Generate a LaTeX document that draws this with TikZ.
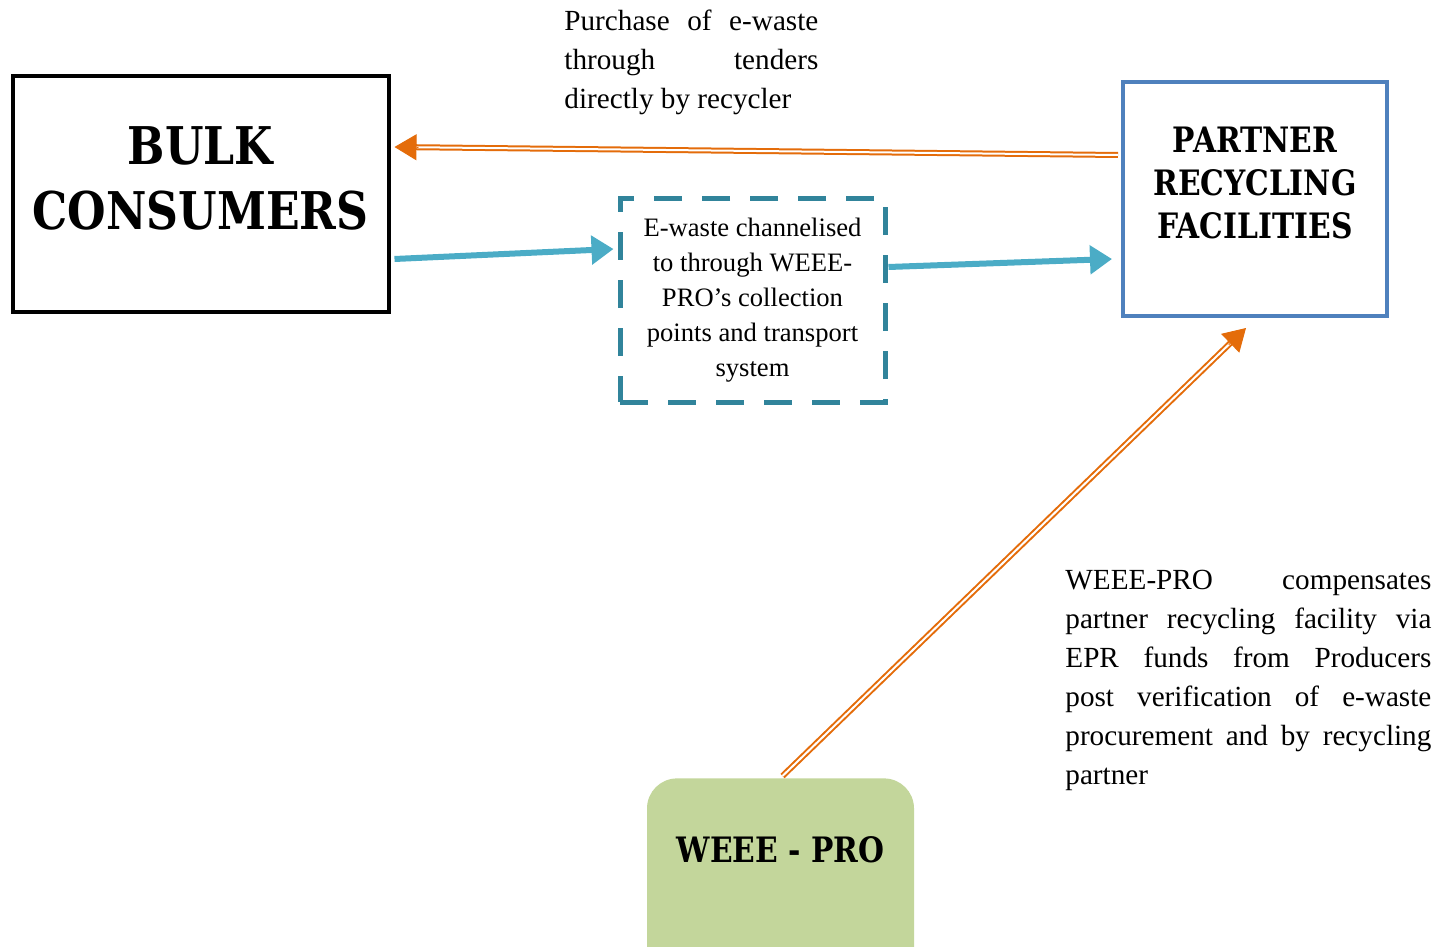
\documentclass[tikz,border=0pt]{standalone}
\usepackage{fontspec}
\setmainfont{Liberation Serif}
\newfontfamily\headfont[FakeStretch=0.85]{DejaVu Serif}
\usetikzlibrary{arrows.meta,calc}

\definecolor{arroworange}{HTML}{E46C0A}
\definecolor{arrowblue}{HTML}{4BACC6}
\definecolor{dashteal}{HTML}{31849B}
\definecolor{boxblue}{HTML}{4F81BD}
\definecolor{progreen}{HTML}{C3D69B}

\newcommand{\sidepar}[2]{\parbox[t]{#1}{\hyphenpenalty=10000\exhyphenpenalty=10000\relax #2}}

\tikzset{
  bulkbox/.style={draw=black, line width=2pt, minimum width=188pt, minimum height=118pt},
  recycbox/.style={draw=boxblue, line width=2pt, minimum width=132pt, minimum height=117pt},
  channelbox/.style={draw=dashteal, line width=2.5pt, dash pattern=on 14pt off 10pt,
    minimum width=132.5pt, minimum height=102pt, align=center,
    font=\fontsize{13.3pt}{17.5pt}\selectfont},
  probox/.style={fill=progreen, rounded corners=15pt, minimum width=133.5pt, minimum height=130pt},
  headlabel/.style={align=center, font=\headfont\bfseries},
  sidetext/.style={inner sep=0pt, font=\fontsize{14.6pt}{19.5pt}\selectfont},
  blueflow/.style={arrowblue, line width=3pt, -{Triangle[length=11pt,width=14pt]}},
  orangeflow/.style={arroworange, line width=1pt, double=white, double distance=1pt},
  orangetip/.style={arroworange, line width=0.5pt, -{Triangle[length=11pt,width=13pt]}}
}

\begin{document}
\begin{tikzpicture}[x=0.5pt,y=-0.5pt]
        \useasboundingbox (0,0) rectangle (1451,947);
        \clip (0,0) rectangle (1451,947);

        % boxes
        \node[bulkbox, label={[headlabel, yshift=8pt, font=\headfont\bfseries\fontsize{26pt}{32.5pt}\selectfont]center:BULK\\CONSUMERS}] (bulk) at (200.5,194) {};
        \node[recycbox, label={[headlabel, yshift=8pt, font=\headfont\bfseries\fontsize{17.5pt}{21.5pt}\selectfont]center:PARTNER\\RECYCLING\\FACILITIES}] (partner) at (1255,199) {};
        \node[channelbox] (channel) at (752.5,300) {E-waste channelised\\to through WEEE-\\PRO’s collection\\points and transport\\system};
        \node[probox, anchor=north, label={[headlabel, yshift=29.5pt, font=\headfont\bfseries\fontsize{17.5pt}{21.5pt}\selectfont]center:WEEE - PRO}] (pro) at (780.5,778) {};

        % texts
        \node[sidetext, anchor=north west] (purchase) at (564,10)
          {\sidepar{127pt}{Purchase of e-waste\linebreak through tenders\linebreak directly by recycler}};
        \node[sidetext, anchor=north west] (compensate) at (1065,570)
          {\sidepar{183pt}{WEEE-PRO compensates\linebreak partner recycling facility via\linebreak EPR funds from Producers\linebreak post verification of e-waste\linebreak procurement and by recycling\linebreak partner}};

        % end points
        \coordinate (bulk out) at ([xshift=2pt,yshift=-32.5pt]bulk.east);
        \coordinate (channel in) at ([xshift=-2pt,yshift=25.5pt]channel.west);
        \coordinate (channel out) at ([xshift=0.5pt,yshift=16.5pt]channel.east);
        \coordinate (partner in) at ([xshift=-4.5pt,yshift=-30pt]partner.west);
        \coordinate (partner out) at ([xshift=-1.5pt,yshift=22pt]partner.west);
        \coordinate (bulk in) at ([xshift=2pt,yshift=23.5pt]bulk.east);
        \coordinate (pro out) at ([xshift=1pt,yshift=1pt]pro.north);
        \coordinate (partner low) at ([xshift=-4.5pt,yshift=-5pt]partner.south);

        % blue flow
        \draw[blueflow] (bulk out) -- (channel in);
        \draw[blueflow] (channel out) -- (partner in);

        % orange flow
        \draw[orangeflow] (partner out) -- ($(bulk in)!8pt!(partner out)$);
        \draw[orangetip] ($(bulk in)!12pt!(partner out)$) -- (bulk in);
        \draw[orangeflow] (pro out) -- ($(partner low)!8pt!(pro out)$);
        \draw[orangetip] ($(partner low)!12pt!(pro out)$) -- (partner low);

        \end{tikzpicture}
\end{document}
